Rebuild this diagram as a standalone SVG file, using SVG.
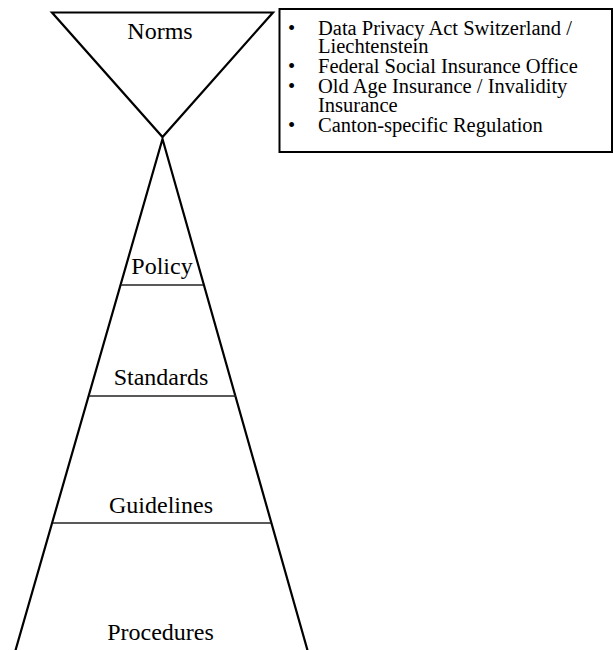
<svg xmlns="http://www.w3.org/2000/svg" width="613" height="650" viewBox="0 0 613 650">
<style>
.shape{fill:none;stroke:#000;stroke-width:2.2;stroke-linejoin:miter}
.sep{stroke:#222;stroke-width:1.5}
.lbl{font-family:"Liberation Serif","Times New Roman",serif;font-size:24px;fill:#000;text-anchor:middle}
.li{font-family:"Liberation Serif","Times New Roman",serif;font-size:20.5px;fill:#000}
</style>
<rect width="613" height="650" fill="#fff"/>
<g id="norms">
<polygon class="shape" points="52,12.5 273,12.5 162.5,137"/>
<text class="lbl" x="160" y="38.5">Norms</text>
</g>
<g id="pyramid">
<polyline class="shape" points="15,652 162.5,139 308,652"/>
</g>
<g id="connectors">
<line class="sep" x1="121" y1="285" x2="203" y2="285"/>
<line class="sep" x1="89" y1="396" x2="236" y2="396"/>
<line class="sep" x1="53" y1="523" x2="271" y2="523"/>
</g>
<g id="policy"><text class="lbl" x="162" y="274">Policy</text></g>
<g id="standards"><text class="lbl" x="161" y="385">Standards</text></g>
<g id="guidelines"><text class="lbl" x="161" y="513">Guidelines</text></g>
<g id="procedures"><text class="lbl" x="160.5" y="640">Procedures</text></g>
<g id="norms-list">
<rect x="279.5" y="9" width="332.5" height="143" fill="none" stroke="#000" stroke-width="2"/>
<text class="li" x="288" y="34.5">•</text>
<text class="li" x="318" y="34.5">Data Privacy Act Switzerland /</text>
<text class="li" x="318" y="52.5">Liechtenstein</text>
<text class="li" x="288" y="73">•</text>
<text class="li" x="318" y="73">Federal Social Insurance Office</text>
<text class="li" x="288" y="93">•</text>
<text class="li" x="318" y="93">Old Age Insurance / Invalidity</text>
<text class="li" x="318" y="111.5">Insurance</text>
<text class="li" x="288" y="131.5">•</text>
<text class="li" x="318" y="131.5">Canton-specific Regulation</text>
</g>
</svg>
